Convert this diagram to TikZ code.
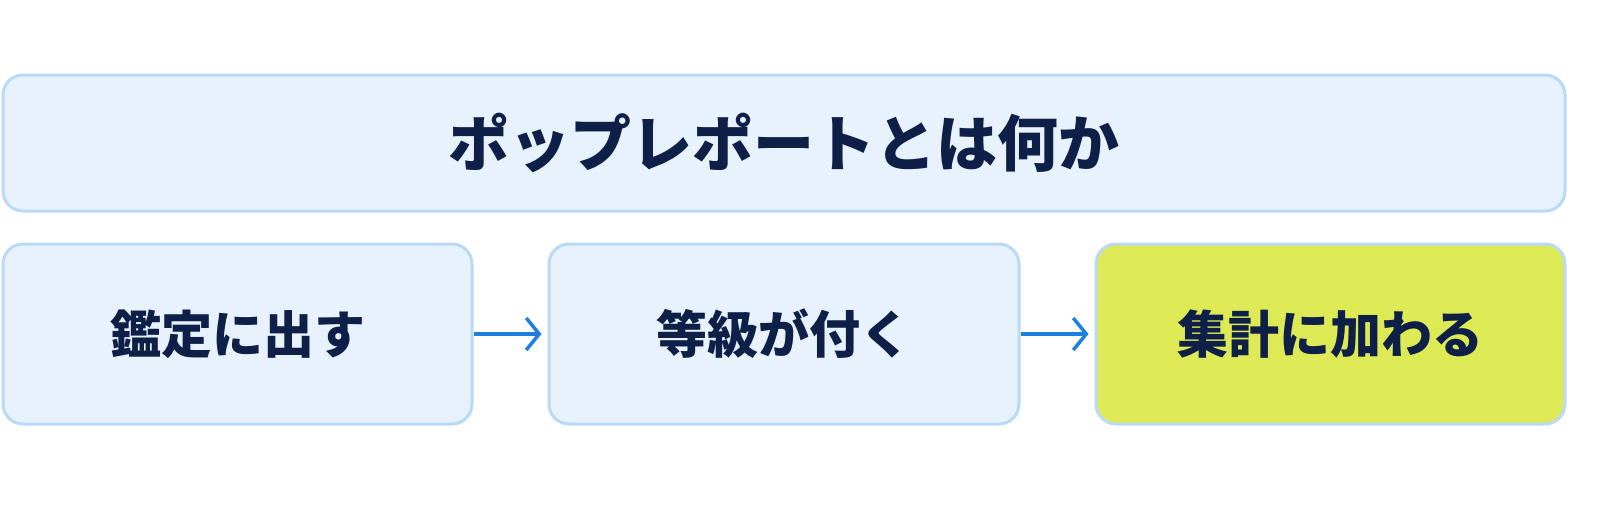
\documentclass[tikz,border=0pt]{standalone}
\usepackage{fontspec}
\newfontfamily\cjk{Noto Sans CJK JP}
\usetikzlibrary{arrows.meta}
\definecolor{boxfill}{HTML}{E7F2FC}
\definecolor{boxline}{HTML}{B9DAF6}
\definecolor{hilite}{HTML}{DDEA56}
\definecolor{ink}{HTML}{0E1F48}
\definecolor{arrowc}{HTML}{1F7FDF}
\tikzset{
  card/.style={draw=boxline, line width=3pt, fill=boxfill, rounded corners=20pt,
    inner sep=0pt, text=ink, font=\cjk\bfseries\fontsize{51}{58}\selectfont},
  flow/.style={draw=arrowc, line width=3.5pt, -{Straight Barb[length=13pt,width=32pt,line width=3.5pt]}}
}
\begin{document}
\begin{tikzpicture}[x=1pt,y=-1pt]
\useasboundingbox[fill=white] (0,0) rectangle (1600,509);
\node[card, minimum width=1562pt, minimum height=136pt,
  font=\cjk\bfseries\fontsize{61}{68}\selectfont] (title) at (784,143) {ポップレポートとは何か};
\node[card, minimum width=469pt, minimum height=180pt] (s1) at (237.5,334) {鑑定に出す};
\node[card, minimum width=470pt, minimum height=180pt] (s2) at (784,334) {等級が付く};
\node[card, fill=hilite, minimum width=469pt, minimum height=180pt] (s3) at (1330.5,334) {集計に加わる};
\draw[flow] (s1.east) -- ([xshift=-6pt]s2.west);
\draw[flow] (s2.east) -- ([xshift=-6pt]s3.west);
\end{tikzpicture}
\end{document}
